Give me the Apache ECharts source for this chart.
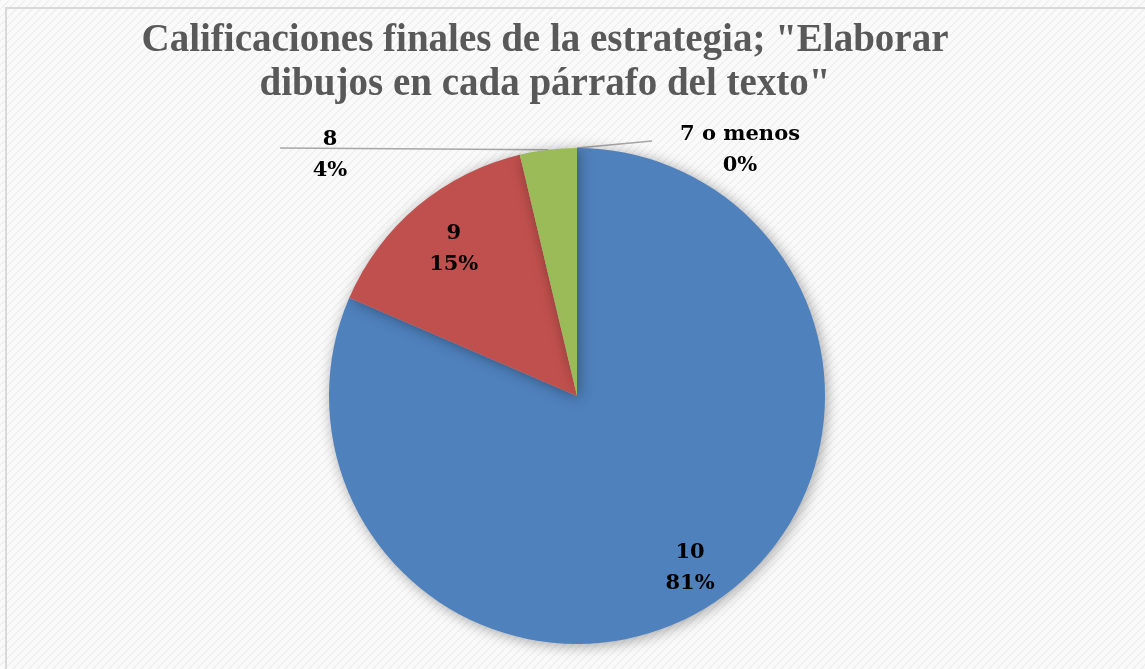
<!DOCTYPE html>
<html>
<head>
<meta charset="utf-8">
<script src="https://cdn.jsdelivr.net/npm/echarts@6/dist/echarts.min.js"></script>
<style>
  html, body { margin: 0; padding: 0; background: #fff; }
  #chart { width: 1145px; height: 669px; }
</style>
</head>
<body>
<div id="chart"></div>
<script>
// datos del grafico
var categorias = ['10', '9', '8', '7 o menos'];
var alumnos = [22, 4, 1, 0];
var colores = ['#4f81bd', '#c0504d', '#9bbb59', '#8064a2'];
var titulo = 'Calificaciones finales de la estrategia; "Elaborar\ndibujos en cada párrafo del texto"';

var cx = 577, cy = 396, radio = 248;

// textura de fondo (rayas diagonales muy claras)
function fondo() {
  var c = document.createElement('canvas');
  c.width = 8; c.height = 8;
  var g = c.getContext('2d');
  g.fillStyle = '#fafafa';
  g.fillRect(0, 0, 8, 8);
  g.fillStyle = '#efefef';
  for (var i = 0; i < 8; i++) {
    g.fillRect(i, (8 - i) % 8, 1, 2);
  }
  return c;
}

var chart = echarts.init(document.getElementById('chart'));

var datos = categorias.map(function (n, i) {
  return { name: n, value: alumnos[i], itemStyle: { color: colores[i] } };
});

// lineas guia de las etiquetas exteriores, a partir del borde de la tarta
var total = alumnos.reduce(function (a, b) { return a + b; }, 0);
function puntoBorde(idx) {
  var acum = 0;
  for (var i = 0; i < idx; i++) acum += alumnos[i];
  var medio = (acum + alumnos[idx] / 2) / total * 2 * Math.PI;
  return [cx + radio * Math.sin(medio), cy - radio * Math.cos(medio)];
}
var p8 = puntoBorde(2), p7 = puntoBorde(3);

chart.setOption({
  backgroundColor: { image: fondo(), repeat: 'repeat' },
  animation: false,
  title: {
    text: titulo,
    left: 540,
    top: 14,
    textAlign: 'center',
    textStyle: {
      fontFamily: 'Liberation Serif',
      fontWeight: 'bold',
      fontSize: 39,
      lineHeight: 44,
      color: '#595959'
    }
  },
  graphic: [{
    type: 'rect',
    shape: { x: 6, y: 8, width: 1145, height: 669 },
    style: { fill: 'none', stroke: '#d9d9d9', lineWidth: 2 },
    silent: true
  }, {
    type: 'polyline',
    shape: { points: [p8, [280, 148]] },
    style: { stroke: '#a6a6a6', lineWidth: 1.5, fill: null },
    silent: true
  }, {
    type: 'polyline',
    shape: { points: [p7, [652, 141]] },
    style: { stroke: '#a6a6a6', lineWidth: 1.5, fill: null },
    silent: true
  }],
  series: [{
    type: 'pie',
    center: [cx, cy],
    radius: [0, radio],
    startAngle: 90,
    clockwise: true,
    minShowLabelAngle: 0,
    avoidLabelOverlap: false,
    data: datos,
    itemStyle: {
      shadowBlur: 14,
      shadowColor: 'rgba(0,0,0,0.35)',
      shadowOffsetX: 2,
      shadowOffsetY: 2
    },
    label: {
      position: 'inside',
      formatter: function (p) { return p.name + '\n' + Math.round(p.percent) + '%'; },
      fontFamily: 'DejaVu Serif',
      fontWeight: 'bold',
      fontSize: 21,
      lineHeight: 31,
      color: '#000'
    },
    labelLine: { show: false },
    labelLayout: function (p) {
      var r = p.labelRect;
      var lx = r.x + r.width / 2, ly = r.y + r.height / 2;
      if (p.dataIndex === 0) return { x: cx + (lx - cx) * 1.62, y: cy + (ly - cy) * 1.62 };
      if (p.dataIndex === 1) return { x: cx + (lx - cx) * 1.51, y: cy + (ly - cy) * 1.51 };
      if (p.dataIndex === 2) return { x: 330, y: 155 };
      return { x: 740, y: 150 };
    }
  }]
});
</script>
</body>
</html>
